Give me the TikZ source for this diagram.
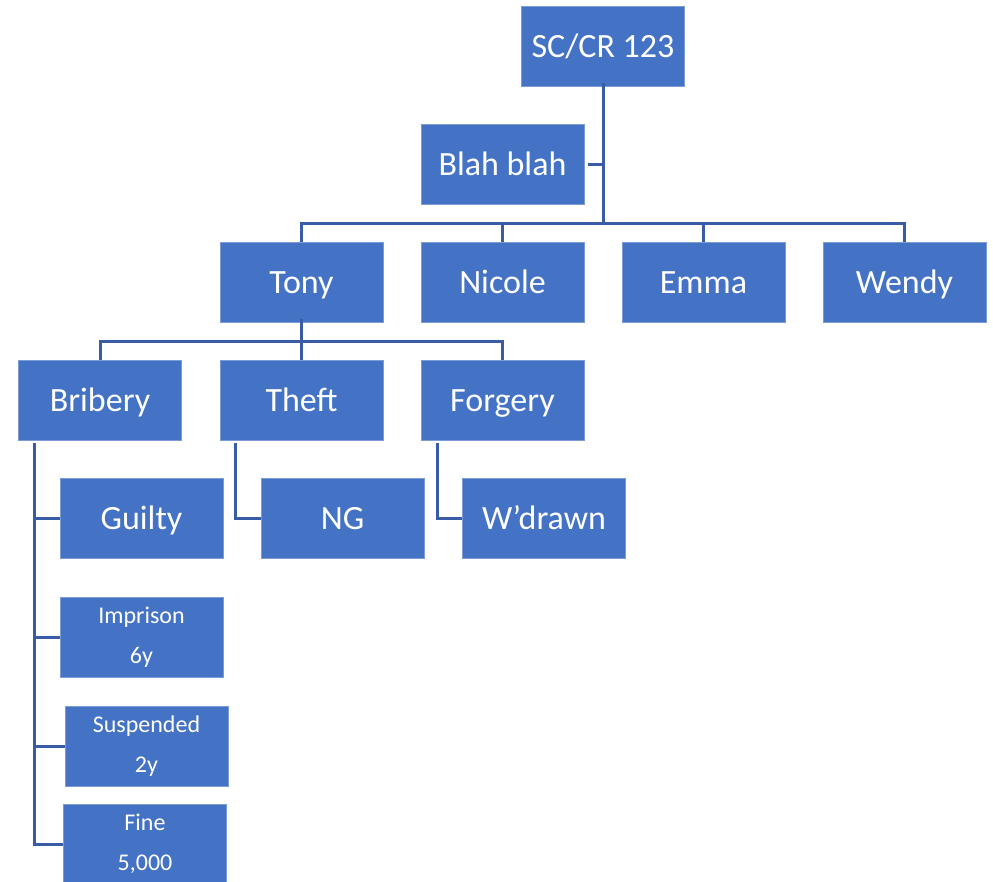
\documentclass[tikz,border=0pt]{standalone}
\usepackage{fontspec}
\setmainfont{Carlito}
\definecolor{boxblue}{RGB}{68,114,196}
\definecolor{lineblue}{RGB}{56,92,165}
\begin{document}
\begin{tikzpicture}[x=1pt,y=-1pt,
  box/.style={fill=boxblue,draw=boxblue!70!white,line width=0.6pt,text=white,minimum width=163pt,minimum height=80pt,inner sep=0pt,text height=25pt,text depth=3pt,font=\fontsize{34}{40}\selectfont},
  smallbox/.style={box,align=center,text height=,text depth=,font=\fontsize{24}{40}\selectfont},
  conn/.style={draw=lineblue,line width=3pt}]
\useasboundingbox (0,0) rectangle (993,881);
\clip (0,0) rectangle (993,881);
\node[box] (root) at (603,46) {SC/CR 123};
\node[box] (blah) at (502.5,164) {Blah blah};
\node[box] (tony) at (301.5,282) {Tony};
\node[box] (nicole) at (502.5,282) {Nicole};
\node[box] (emma) at (703.5,282) {Emma};
\node[box] (wendy) at (904.5,282) {Wendy};
\node[box] (bribery) at (100,400) {Bribery};
\node[box] (theft) at (301.5,400) {Theft};
\node[box] (forgery) at (502.5,400) {Forgery};
\node[box] (guilty) at (141.5,518) {Guilty};
\node[box] (ng) at (342.5,518) {NG};
\node[box] (wdrawn) at (544,518) {W’drawn};
\node[smallbox] (imprison) at (141.5,637) {Imprison\\6y};
\node[smallbox] (suspended) at (146.5,746) {Suspended\\2y};
\node[smallbox] (fine) at (145,844) {Fine\\5,000};
% coordinates
\coordinate (bus1) at (603,223);
\coordinate (bus2) at (301.5,341);
% root to bus
\draw[conn] ([yshift=3pt]root.south) -- (bus1);
\draw[conn] ([xshift=4pt]blah.east) -- (blah.east -| root.south);
\draw[conn] (tony.north) |- (bus1) -| (wendy.north);
\draw[conn] (nicole.north) -- (nicole.north |- bus1);
\draw[conn] (emma.north) -- (emma.north |- bus1);
% tony children
\draw[conn] ([yshift=3pt]tony.south) -- (theft.north);
\draw[conn] (bribery.north) |- (bus2) -| (forgery.north);
% bribery children
\coordinate (bv) at (34,443);
\draw[conn] (bv) |- (fine.west);
\draw[conn] (guilty.west) -- (guilty.west -| bv);
\draw[conn] (imprison.west) -- (imprison.west -| bv);
\draw[conn] (suspended.west) -- (suspended.west -| bv);
% theft / forgery children
\coordinate (tv) at (235,443);
\coordinate (fv) at (437,443);
\draw[conn] (tv) |- (ng.west);
\draw[conn] (fv) |- (wdrawn.west);
\end{tikzpicture}
\end{document}
